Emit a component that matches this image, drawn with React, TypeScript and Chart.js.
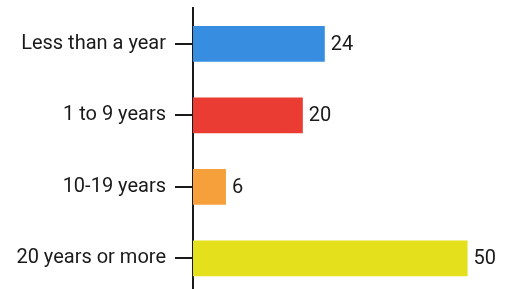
import React, { useEffect, useRef } from "react";
import { Chart, registerables } from "chart.js";

Chart.register(...registerables);

const categories = ["Less than a year", "1 to 9 years", "10-19 years", "20 years or more"];
const values = [24, 20, 6, 50];
const barColors = ["#378ee0", "#ea3c33", "#f5a03a", "#e4e01c"];

const FONT = "Roboto";
const FONT_SIZE = 20;

const valueLabels = {
  id: "valueLabels",
  afterDatasetsDraw(chart: any) {
    const ctx = chart.ctx;
    const meta = chart.getDatasetMeta(0);
    ctx.save();
    ctx.font = `${FONT_SIZE}px ${FONT}`;
    ctx.fillStyle = "#1a1a1a";
    ctx.textAlign = "left";
    ctx.textBaseline = "middle";
    meta.data.forEach((bar: any, i: number) => {
      ctx.fillText(String(values[i]), bar.x + 6, bar.y + 1);
    });
    ctx.restore();
  },
};

export default function App() {
  const ref = useRef<HTMLCanvasElement | null>(null);
  useEffect(() => {
    if (!ref.current) return;
    const chart = new Chart(ref.current, {
      type: "bar",
      data: {
        labels: categories,
        datasets: [
          {
            data: values,
            backgroundColor: barColors,
            borderWidth: 0,
            barPercentage: 0.5,
            categoryPercentage: 1,
          },
        ],
      },
      options: {
        indexAxis: "y",
        animation: false,
        responsive: true,
        maintainAspectRatio: false,
        layout: { padding: { top: 8, left: 0, right: 0, bottom: 0 } },
        plugins: { legend: { display: false }, tooltip: { enabled: false } },
        scales: {
          x: { display: false, min: 0, max: 57 },
          y: {
            afterFit: (s: any) => {
              s.width = 193;
              s.paddingTop = 0;
              s.paddingBottom = 0;
            },
            grid: {
              display: true,
              drawOnChartArea: false,
              drawTicks: true,
              tickLength: 18,
              offset: false,
              color: "#1a1a1a",
              lineWidth: 2,
            },
            border: { display: true, color: "#1a1a1a", width: 2 },
            ticks: {
              padding: 9,
              color: "#1a1a1a",
              font: { family: FONT, size: FONT_SIZE },
            },
          },
        },
      },
      plugins: [valueLabels],
    });
    return () => chart.destroy();
  }, []);
  return (
    <div style={{ position: "absolute", left: 0, top: 0, width: 506, height: 294, background: "#fff" }}>
      <canvas ref={ref} />
    </div>
  );
}
